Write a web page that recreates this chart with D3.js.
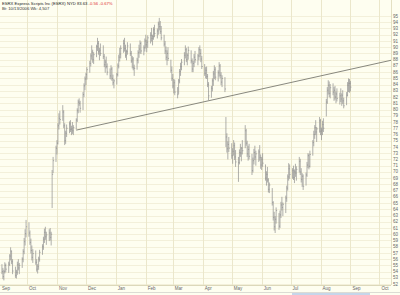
<!DOCTYPE html>
<html>
<head>
<meta charset="utf-8">
<script src="https://cdn.jsdelivr.net/npm/d3@7"></script>
<style>
  body { margin: 0; background: #fefef0; }
  text { font-family: "Liberation Sans", Arial, sans-serif; }
</style>
</head>
<body>
<div id="chart"></div>
<script>
// ESRX daily bars, Sep 5 2005 - Sep 1 2006 (one row = one week, Mon-Fri)
var highs = [
  55.2,54.6,54.3,55.5,55.3, 55.6,56.8,57.9,57.4,56.0, 54.8,54.3,55.6,56.0,55.4, 56.3,57.6,59.4,60.8,62.3,
  61.9,60.6,59.3,58.2,57.6, 57.4,56.0,55.2,56.4,57.5, 58.4,59.6,60.9,61.2,60.4, 60.8,61.0,60.4,70.3,72.4,
  74.2,75.1,77.8,79.4,79.8, 80.7,79.9,77.8,76.6,77.6, 78.1,78.3,77.4,78.0,77.5, 78.6,80.2,81.6,81.8,81.4,
  82.8,84.2,85.3,85.9,86.8, 87.8,89.0,90.3,89.6,89.2, 90.4,91.5,91.0,89.9,90.6, 90.3,88.9,88.0,88.5,87.4,
  86.6,87.1,86.8,85.6,84.9, 85.9,87.4,88.8,89.9,90.3, 91.2,91.5,90.4,89.6,90.8, 90.6,89.4,88.6,88.4,87.2,
  88.3,89.5,90.4,91.1,90.9, 90.3,91.4,92.0,91.2,91.9, 92.4,93.1,92.0,93.2,93.6, 93.0,94.1,94.7,94.2,93.4,
  92.0,91.0,90.1,89.5,90.0, 88.0,86.9,85.7,84.9,84.8, 83.6,84.9,86.5,87.5,88.1, 89.2,90.3,89.9,89.0,90.1,
  89.5,88.2,87.8,88.9,89.4, 88.9,90.0,90.3,89.7,88.6, 87.3,86.8,86.9,85.7,84.4, 83.8,85.0,86.2,87.1,86.8,
  86.3,87.6,87.3,86.0,85.5, 85.2,78.8,76.2,74.9,75.6, 74.6,73.8,75.1,74.7,73.5, 72.4,73.6,74.5,74.0,75.1,
  77.5,76.9,75.0,74.2,74.5, 72.9,72.3,73.7,74.2,73.4, 73.6,74.3,72.8,72.4,73.0, 71.2,70.1,70.8,69.0,68.3,
  67.4,65.3,63.6,62.9,64.3, 63.4,63.8,65.2,66.0,65.1, 66.2,67.8,69.6,71.4,71.2, 70.6,71.0,70.4,71.3,70.9,
  72.4,72.1,70.6,69.8,69.6, 69.9,71.6,73.0,72.9,73.4, 75.1,76.6,77.5,78.3,77.2, 78.8,78.5,77.1,78.2,78.6,
  81.7,83.6,84.7,84.5,84.1, 84.2,83.6,83.8,82.9,83.4, 82.7,83.4,82.6,83.1,81.9, 82.8,84.4,85.0,84.9,84.6
];
var lows = [
  53.6,52.8,52.6,53.7,53.9, 53.8,54.9,55.8,55.2,53.6, 53.0,52.9,53.5,54.2,53.6, 54.6,55.5,56.8,58.2,59.5,
  59.6,58.3,56.9,55.8,55.4, 55.1,54.0,53.7,54.3,55.6, 56.7,57.5,58.6,59.1,58.3, 58.9,59.0,58.2,64.2,69.8,
  71.6,72.8,74.4,76.8,77.6, 78.2,77.0,74.3,74.5,75.6, 76.2,76.4,75.9,76.1,75.9, 76.8,78.0,79.4,80.6,79.5,
  79.9,82.0,83.1,83.9,84.8, 85.9,86.9,88.0,87.5,87.3, 88.4,89.4,88.8,87.9,88.6, 88.1,86.8,85.9,86.6,85.5,
  84.9,84.8,84.6,83.9,83.4, 84.0,85.3,86.6,87.7,88.2, 89.1,89.3,88.3,87.9,88.8, 88.6,87.5,86.6,86.3,85.4,
  86.4,87.4,88.3,89.0,88.9, 88.7,89.3,89.8,89.2,89.9, 90.6,90.9,90.3,91.2,91.6, 91.4,92.0,92.7,92.1,91.1,
  90.1,88.9,87.9,87.1,87.8, 85.9,84.6,83.4,82.6,82.3, 81.8,82.5,84.2,85.4,86.3, 87.1,88.2,87.6,87.1,88.0,
  87.4,86.0,86.0,86.8,87.5, 87.1,87.9,88.4,87.6,86.5, 85.4,85.0,84.9,83.6,81.5, 81.9,82.9,83.8,84.9,84.7,
  84.5,85.3,85.0,83.9,83.6, 82.8,74.0,73.1,72.0,73.2, 72.1,71.3,72.6,71.9,70.8, 68.4,71.2,72.4,71.7,72.8,
  73.8,74.2,72.4,71.8,72.0, 69.5,69.9,71.2,71.9,71.0, 71.6,71.8,70.5,70.3,70.8, 68.6,67.8,68.3,66.7,66.6,
  64.6,62.2,60.6,60.2,61.7, 60.7,61.0,62.6,63.8,62.9, 63.4,65.2,67.0,68.6,68.9, 68.9,68.7,68.2,69.2,68.6,
  69.9,69.5,68.3,67.6,67.1, 67.8,69.2,70.6,70.4,70.7, 72.6,74.1,75.3,75.9,74.8, 76.3,75.9,75.1,75.9,76.4,
  78.9,80.9,82.4,82.0,81.8, 82.3,81.4,81.6,81.0,81.3, 80.8,81.2,80.6,80.9,80.2, 80.7,82.1,82.8,82.7,82.9
];
var closes = [
  54.0,53.2,54.0,55.0,54.4, 55.2,56.5,57.3,55.6,54.1, 53.4,53.9,55.1,54.6,55.0, 56.0,57.2,58.8,60.1,61.2,
  60.2,58.7,57.4,56.3,56.9, 55.5,54.4,54.8,56.0,57.1, 58.0,59.2,60.3,59.6,59.9, 60.2,59.5,60.0,69.6,71.8,
  73.8,74.6,77.4,78.6,78.4, 79.6,77.4,75.0,76.2,77.0, 77.7,76.8,76.9,76.6,77.1, 78.3,79.8,81.2,81.0,80.2,
  82.4,83.8,84.9,85.6,86.4, 87.4,88.6,89.2,88.0,88.8, 90.1,90.6,89.3,89.5,89.0, 88.5,87.2,87.6,86.9,86.0,
  85.4,86.5,85.0,84.3,84.6, 85.6,87.0,88.4,88.9,89.8, 90.6,89.8,88.7,89.3,90.2, 89.0,87.8,88.1,86.7,86.6,
  87.9,89.1,89.7,90.6,89.4, 89.9,91.0,90.4,90.8,91.5, 91.9,91.4,91.7,92.8,92.2, 92.6,93.7,93.3,92.5,91.5,
  90.5,89.4,88.4,89.0,88.2, 86.3,85.0,83.8,84.3,82.8, 82.4,84.6,86.1,86.9,87.6, 88.7,89.6,88.0,88.7,89.5,
  87.8,86.5,87.4,88.4,88.0, 88.6,89.6,89.0,88.1,86.9, 85.8,86.3,85.3,84.0,82.2, 83.4,84.6,85.7,86.4,85.2,
  85.9,87.0,85.5,84.4,85.0, 83.3,75.6,73.7,74.4,73.8, 72.6,73.3,74.2,72.4,71.6, 71.5,73.1,73.0,73.8,73.4,
  76.6,74.6,72.9,73.6,72.5, 70.2,71.8,73.1,72.4,72.9, 73.2,72.3,71.1,72.0,71.4, 69.0,69.6,68.7,67.2,67.9,
  65.1,62.7,61.2,62.4,63.8, 61.3,63.1,64.7,64.3,64.8, 65.8,67.4,69.2,70.5,69.6, 70.2,69.1,70.0,69.8,70.4,
  71.7,70.0,68.8,69.3,67.7, 69.5,71.1,72.6,70.9,72.8, 74.7,76.0,77.1,76.4,76.9, 78.2,76.5,76.7,77.6,77.0,
  81.2,83.1,83.9,82.6,83.5, 82.8,83.1,82.0,82.5,81.8, 82.2,81.7,82.3,81.4,80.6, 82.3,83.9,84.2,84.2,83.6
];
var monthLabels = ["Sep","Oct","Nov","Dec","Jan","Feb","Mar","Apr","May","Jun","Jul","Aug","Sep","Oct"];
var priceTicks = d3.range(52, 96);
var trendLine = [["2005-11-21", 76.7], ["2006-10-13", 87.9]];

// Set svg Width and Height
var svgWidth = 400;
var svgHeight = 295;
var plotRight = 391;
var plotBottom = 285;

var parseDate = d3.timeParse("%Y-%m-%d");

// trading days: weekdays from Sep 5 2005
var days = d3.timeDay.range(new Date(2005, 8, 5), new Date(2006, 8, 2))
  .filter(d => d.getDay() !== 0 && d.getDay() !== 6);

var bars = days.map((d, i) => ({ date: d, high: highs[i], low: lows[i], close: closes[i] }));

var svg = d3.select("#chart")
  .append("svg")
  .attr("width", svgWidth)
  .attr("height", svgHeight);

svg.append("rect")
  .attr("width", svgWidth)
  .attr("height", svgHeight)
  .attr("fill", "#fefef0");

// scales
var xScale = d3.scaleTime()
  .domain([new Date(2005, 8, 3), new Date(2006, 9, 13)])
  .range([0, plotRight]);

var yScale = d3.scaleLinear()
  .domain([51.86, 97.57])
  .range([plotBottom, 0]);

// horizontal grid
svg.append("g")
  .selectAll("line")
  .data(priceTicks)
  .enter()
  .append("line")
  .attr("x1", 0)
  .attr("x2", plotRight)
  .attr("y1", d => Math.round(yScale(d)) + 0.5)
  .attr("y2", d => Math.round(yScale(d)) + 0.5)
  .attr("stroke", "#f3f0da")
  .attr("stroke-width", 1);

// month grid
var monthStarts = xScale.ticks(d3.timeMonth.every(1));
svg.append("g")
  .selectAll("line")
  .data(monthStarts)
  .enter()
  .append("line")
  .attr("x1", d => Math.round(xScale(d)) + 0.5)
  .attr("x2", d => Math.round(xScale(d)) + 0.5)
  .attr("y1", 0)
  .attr("y2", plotBottom)
  .attr("stroke", "#ebe7cb")
  .attr("stroke-width", 1);

// plot frame lines
svg.append("line")
  .attr("x1", plotRight + 0.5).attr("x2", plotRight + 0.5)
  .attr("y1", 0).attr("y2", plotBottom)
  .attr("stroke", "#e4e0c2");
svg.append("line")
  .attr("x1", 0).attr("x2", plotRight)
  .attr("y1", plotBottom + 0.5).attr("y2", plotBottom + 0.5)
  .attr("stroke", "#dcd8ba");

// price bars (high-low with close tick)
var barGroup = svg.append("g")
  .attr("stroke", "#8e8e8e")
  .attr("stroke-width", 0.7);

barGroup.selectAll(".hl")
  .data(bars)
  .enter()
  .append("line")
  .attr("x1", d => xScale(d.date))
  .attr("x2", d => xScale(d.date))
  .attr("y1", d => yScale(d.high))
  .attr("y2", d => yScale(d.low));

barGroup.selectAll(".cl")
  .data(bars)
  .enter()
  .append("line")
  .attr("x1", d => xScale(d.date))
  .attr("x2", d => xScale(d.date) + 1)
  .attr("y1", d => yScale(d.close))
  .attr("y2", d => yScale(d.close));

// trend line
svg.append("line")
  .attr("x1", xScale(parseDate(trendLine[0][0])))
  .attr("y1", yScale(trendLine[0][1]))
  .attr("x2", xScale(parseDate(trendLine[1][0])))
  .attr("y2", yScale(trendLine[1][1]))
  .attr("stroke", "#7a7a72")
  .attr("stroke-width", 0.9);

// right price axis labels
svg.append("g")
  .selectAll("text")
  .data(priceTicks)
  .enter()
  .append("text")
  .attr("x", plotRight + 2)
  .attr("y", d => yScale(d))
  .attr("dy", "0.35em")
  .attr("font-size", "4.5px")
  .attr("fill", "#666")
  .text(d => d);

// month labels
var labelDates = [xScale.domain()[0]].concat(monthStarts);
svg.append("g")
  .selectAll("text")
  .data(monthLabels)
  .enter()
  .append("text")
  .attr("x", (d, i) => xScale(labelDates[i]) + 2)
  .attr("y", 290)
  .attr("font-size", "4.5px")
  .attr("fill", "#666")
  .text(d => d);

// bottom scroll strip
svg.append("line")
  .attr("x1", 0).attr("x2", svgWidth)
  .attr("y1", 292.5).attr("y2", 292.5)
  .attr("stroke", "#dcdcd4");
svg.append("rect")
  .attr("x", 292).attr("y", 293)
  .attr("width", 78).attr("height", 2)
  .attr("fill", "#c6d6ea");

// header
var header = svg.append("g").attr("font-size", "4.2px");
var line1 = header.append("text").attr("x", 2).attr("y", 5);
line1.append("tspan").attr("fill", "#222").text("ESRX Express Scripts Inc (ESRX) NYD  ");
line1.append("tspan").attr("fill", "#222").text("83.63  ");
line1.append("tspan").attr("fill", "#e03030").text("-0.56  -0.67%");
header.append("text")
  .attr("x", 2).attr("y", 9.5)
  .attr("fill", "#333")
  .text("Bt: 10/13/2006  Wk: 4,507");
</script>
</body>
</html>
